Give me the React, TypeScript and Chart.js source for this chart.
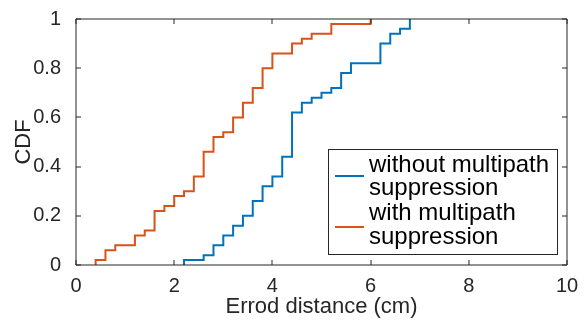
import React, { useEffect, useRef } from "react";
import { Chart, registerables } from "chart.js";

Chart.register(...registerables);

// Errod distance (cm) at each CDF step, and CDF value after the step
const withoutX = [2.2, 2.6, 2.8, 3.0, 3.2, 3.4, 3.6, 3.8, 4.0, 4.2, 4.4, 4.6, 4.8, 5.0, 5.2, 5.4, 5.6, 6.2, 6.4, 6.6, 6.8];
const withoutY = [0.02, 0.04, 0.08, 0.12, 0.16, 0.2, 0.26, 0.32, 0.36, 0.44, 0.62, 0.66, 0.68, 0.7, 0.72, 0.78, 0.82, 0.9, 0.94, 0.96, 1.0];
const withX = [0.4, 0.6, 0.8, 1.2, 1.4, 1.6, 1.8, 2.0, 2.2, 2.4, 2.6, 2.8, 3.0, 3.2, 3.4, 3.6, 3.8, 4.0, 4.4, 4.6, 4.8, 5.2, 6.0];
const withY = [0.02, 0.06, 0.08, 0.12, 0.14, 0.22, 0.24, 0.28, 0.3, 0.36, 0.46, 0.52, 0.54, 0.6, 0.66, 0.72, 0.8, 0.86, 0.9, 0.92, 0.94, 0.98, 1.0];

const seriesLabels = [
  ["without multipath", "suppression"],
  ["with multipath", "suppression"],
];
const seriesColors = ["#0072BD", "#D95319"];

const xTicks = [0, 2, 4, 6, 8, 10];
const xTickLabels = ["0", "2", "4", "6", "8", "10"];
const yTicks = [0, 0.2, 0.4, 0.6, 0.8, 1];
const yTickLabels = ["0", "0.2", "0.4", "0.6", "0.8", "1"];

const xTitle = "Errod distance (cm)";
const yTitle = "CDF";

const FONT = "'Liberation Sans', Arial, Helvetica, sans-serif";
const AXIS_COLOR = "#262626";

function toPoints(xs: number[], ys: number[]) {
  return [{ x: xs[0], y: 0 }, ...xs.map((x, i) => ({ x, y: ys[i] }))];
}

const boxAndTicks = {
  id: "boxAndTicks",
  afterDatasetsDraw(chart: any) {
    const { ctx, chartArea, scales } = chart;
    const { left, right, top, bottom } = chartArea;
    ctx.save();
    ctx.strokeStyle = AXIS_COLOR;
    ctx.lineWidth = 1;
    const tl = 5;
    ctx.beginPath();
    xTicks.forEach((v) => {
      const px = Math.round(scales.x.getPixelForValue(v));
      ctx.moveTo(px, bottom);
      ctx.lineTo(px, bottom - tl);
      ctx.moveTo(px, top);
      ctx.lineTo(px, top + tl);
    });
    yTicks.forEach((v) => {
      const py = Math.round(scales.y.getPixelForValue(v));
      ctx.moveTo(left, py);
      ctx.lineTo(left + tl, py);
      ctx.moveTo(right, py);
      ctx.lineTo(right - tl, py);
    });
    ctx.stroke();
    ctx.beginPath();
    ctx.rect(left, top, right - left, bottom - top);
    ctx.stroke();
    ctx.restore();
  },
};

const customLegend = {
  id: "customLegend",
  afterDraw(chart: any) {
    const { ctx } = chart;
    ctx.save();
    const bx = 328.5, by = 149.5, bw = 229, bh = 105;
    ctx.fillStyle = "#ffffff";
    ctx.fillRect(bx, by, bw, bh);
    ctx.strokeStyle = AXIS_COLOR;
    ctx.lineWidth = 1;
    ctx.strokeRect(bx, by, bw, bh);
    const baselines = [[172, 195], [220, 244]];
    const lineYs = [176, 227];
    ctx.font = `24px ${FONT}`;
    ctx.textBaseline = "alphabetic";
    ctx.textAlign = "left";
    seriesLabels.forEach((lines, i) => {
      ctx.strokeStyle = seriesColors[i];
      ctx.lineWidth = 2;
      ctx.beginPath();
      ctx.moveTo(335, lineYs[i]);
      ctx.lineTo(364, lineYs[i]);
      ctx.stroke();
      ctx.fillStyle = "#000000";
      lines.forEach((t, j) => ctx.fillText(t, 369, baselines[i][j]));
    });
    ctx.restore();
  },
};

export default function App() {
  const ref = useRef<HTMLCanvasElement | null>(null);
  useEffect(() => {
    if (!ref.current) return;
    const chart = new Chart(ref.current, {
      type: "scatter",
      data: {
        datasets: [
          {
            label: seriesLabels[0].join(" "),
            data: toPoints(withoutX, withoutY),
            showLine: true,
            stepped: "before",
            borderColor: seriesColors[0],
            backgroundColor: seriesColors[0],
            borderWidth: 2,
            pointRadius: 0,
            fill: false,
          },
          {
            label: seriesLabels[1].join(" "),
            data: toPoints(withX, withY),
            showLine: true,
            stepped: "before",
            borderColor: seriesColors[1],
            backgroundColor: seriesColors[1],
            borderWidth: 2,
            pointRadius: 0,
            fill: false,
          },
        ],
      },
      options: {
        responsive: false,
        animation: false,
        events: [],
        layout: { padding: { top: 13, right: 21, left: 0, bottom: 0 } },
        plugins: { legend: { display: false }, tooltip: { enabled: false } },
        scales: {
          x: {
            type: "linear",
            min: 0,
            max: 10,
            grid: { display: false },
            border: { display: false },
            afterBuildTicks: (s: any) => {
              s.ticks = xTicks.map((v) => ({ value: v }));
            },
            afterFit: (s: any) => {
              s.height = 55;
            },
            ticks: {
              padding: 1,
              color: AXIS_COLOR,
              font: { family: FONT, size: 20 },
              maxRotation: 0,
              callback: (v: any) => xTickLabels[xTicks.indexOf(Number(v))] ?? "",
            },
            title: {
              display: true,
              text: xTitle,
              color: AXIS_COLOR,
              font: { family: FONT, size: 22 },
              padding: { top: 0, bottom: 0 },
            },
          },
          y: {
            type: "linear",
            min: 0,
            max: 1,
            grid: { display: false },
            border: { display: false },
            afterBuildTicks: (s: any) => {
              s.ticks = yTicks.map((v) => ({ value: v }));
            },
            afterFit: (s: any) => {
              s.width = 76;
            },
            ticks: {
              padding: 7,
              color: AXIS_COLOR,
              font: { family: FONT, size: 20 },
              callback: (v: any) => {
                const i = yTicks.findIndex((t) => Math.abs(t - Number(v)) < 1e-9);
                return i >= 0 ? yTickLabels[i] : "";
              },
            },
            title: {
              display: true,
              text: yTitle,
              color: AXIS_COLOR,
              font: { family: FONT, size: 22 },
              padding: { top: 11, bottom: 0 },
            },
          },
        },
      },
      plugins: [boxAndTicks, customLegend],
    });
    return () => chart.destroy();
  }, []);
  return (
    <div style={{ position: "fixed", left: 0, top: 0, width: 588, height: 320, background: "#fff" }}>
      <canvas ref={ref} width={588} height={320} style={{ display: "block" }} />
    </div>
  );
}
